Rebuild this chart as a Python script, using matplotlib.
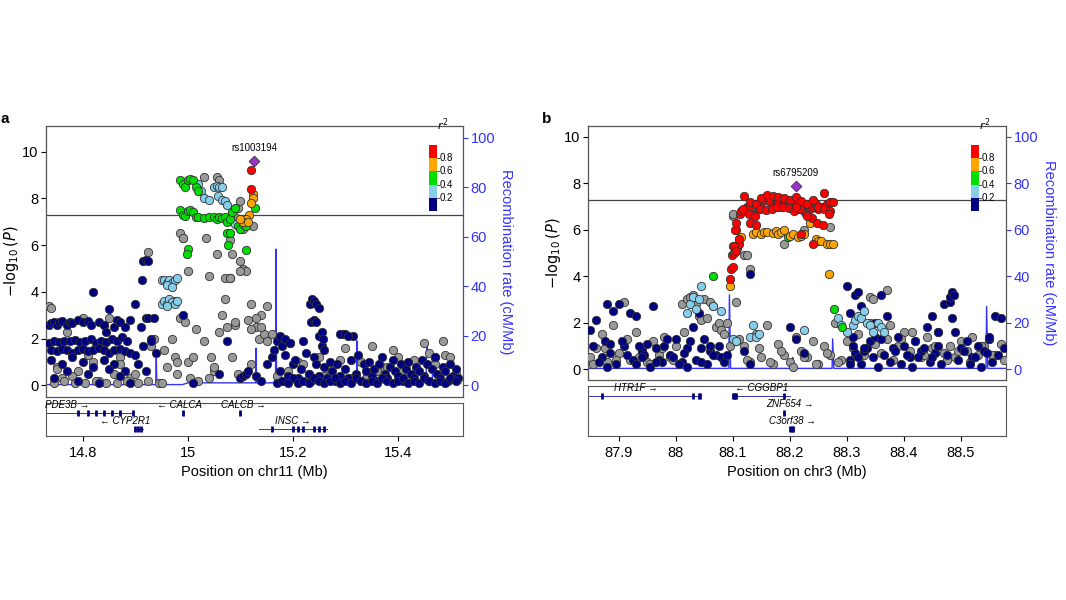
import numpy as np
import matplotlib.pyplot as plt
from matplotlib.patches import Rectangle

plt.rcParams['font.family'] = ['Liberation Sans', 'DejaVu Sans']

NAVY, GREY, LBLUE, GREEN, ORANGE, RED = '#000080', '#999999', '#87CEEB', '#00DD00', '#FFA500', '#FF0000'
REC = '#3333FF'

# ---------------- panel a (chr11) ----------------
a_navy_x = [14.735, 14.74, 14.745, 14.75, 14.755, 14.76, 14.77, 14.775, 14.78, 14.79, 14.80, 14.81, 14.815,
            14.82, 14.83, 14.84, 14.845, 14.85, 14.86, 14.865, 14.87, 14.88, 14.89, 14.90, 14.91, 14.92, 14.925,
            14.93, 14.935, 14.735, 14.745, 14.755, 14.765, 14.775, 14.785, 14.795, 14.805, 14.815, 14.825,
            14.835, 14.845, 14.855, 14.865, 14.875, 14.885, 14.74, 14.75, 14.76, 14.77, 14.78, 14.79, 14.80,
            14.81, 14.82, 14.83, 14.84, 14.85, 14.86, 14.87, 14.88, 14.89, 14.74, 14.76, 14.78, 14.80, 14.82,
            14.84, 14.86, 14.88, 14.90, 14.915, 14.93, 14.745, 14.77, 14.79, 14.81, 14.83, 14.85, 14.87,
            14.89, 14.905, 14.92, 14.94, 14.915, 14.92, 14.925, 14.913, 14.99, 15.01, 15.06, 15.075, 15.10,
            15.105, 15.11, 15.115, 15.13, 15.14, 15.15, 15.16, 15.165, 15.17, 15.175, 15.18, 15.185, 15.19,
            15.195, 15.20, 15.205, 15.21, 15.215, 15.22, 15.225, 15.23, 15.235, 15.24, 15.245, 15.25, 15.255,
            15.26, 15.265, 15.27, 15.275, 15.28, 15.285, 15.29, 15.295, 15.30, 15.305, 15.31, 15.315, 15.32,
            15.325, 15.33, 15.335, 15.34, 15.345, 15.35, 15.355, 15.36, 15.365, 15.37, 15.375, 15.38, 15.385,
            15.39, 15.395, 15.40, 15.405, 15.41, 15.415, 15.42, 15.425, 15.43, 15.435, 15.44, 15.445, 15.45,
            15.455, 15.46, 15.465, 15.47, 15.475, 15.48, 15.485, 15.49, 15.495, 15.50, 15.505, 15.51, 15.515,
            15.17, 15.18, 15.19, 15.20, 15.21, 15.22, 15.23, 15.24, 15.25, 15.26, 15.27, 15.28, 15.29, 15.30,
            15.31, 15.32, 15.33, 15.34, 15.35, 15.36, 15.37, 15.38, 15.39, 15.40, 15.41, 15.42, 15.43, 15.44,
            15.45, 15.46, 15.47, 15.48, 15.49, 15.50, 15.51, 15.232, 15.236, 15.24, 15.244, 15.25, 15.235,
            15.24, 15.245, 15.25, 15.255, 15.26, 15.175, 15.185, 15.195, 15.29, 15.3, 15.305, 15.47, 15.258]
a_navy_y = [2.6, 2.65, 2.7, 2.6, 2.7, 2.75, 2.6, 2.7, 2.65, 2.8, 2.7, 2.75, 2.6,
            4.0, 2.7, 2.6, 2.3, 3.25, 2.5, 2.8, 2.7, 2.5, 2.8, 3.5, 2.5, 2.9, 2.9,
            2.0, 2.9, 1.8, 1.9, 1.85, 1.9, 1.9, 1.95, 1.85, 1.9, 2.0, 1.8,
            1.9, 1.85, 2.0, 1.9, 2.05, 1.9, 1.5, 1.45, 1.55, 1.5, 1.4, 1.5, 1.55,
            1.45, 1.5, 1.6, 1.5, 1.4, 1.5, 1.55, 1.45, 1.4, 1.1, 0.9, 1.2, 1.0, 0.8,
            1.1, 0.9, 0.6, 1.3, 1.7, 1.9, 0.3, 0.6, 0.2, 0.5, 0.1, 0.7, 0.4,
            0.1, 0.9, 0.6, 1.4, 5.3, 5.35, 5.3, 4.5, 3.0, 0.1, 0.5, 1.9, 0.3,
            0.4, 0.5, 0.6, 0.4, 0.2, 0.9, 1.2, 1.5, 1.9, 0.6, 1.7, 1.3, 0.4,
            1.8, 0.9, 1.1, 0.3, 0.7, 1.9, 1.4, 0.5, 0.2, 1.2, 0.9, 0.4, 1.7,
            0.8, 0.3, 1.0, 0.6, 0.2, 0.9, 0.4, 2.2, 0.7, 0.3, 1.1, 2.1, 0.5,
            1.3, 0.2, 0.9, 0.6, 1.0, 0.4, 0.7, 0.2, 0.9, 1.2, 0.5, 0.3, 0.8,
            1.1, 0.6, 0.4, 0.9, 0.2, 0.7, 1.0, 0.5, 0.3, 0.8, 0.6, 1.1, 0.4,
            0.9, 0.2, 0.7, 1.2, 0.5, 0.3, 0.8, 0.6, 0.2, 0.9, 0.4, 0.7, 0.3,
            0.1, 0.2, 0.1, 0.3, 0.1, 0.2, 0.1, 0.3, 0.2, 0.1, 0.2, 0.3, 0.1, 0.2,
            0.1, 0.3, 0.2, 0.1, 0.2, 0.1, 0.3, 0.2, 0.1, 0.2, 0.3, 0.1, 0.2, 0.1,
            0.3, 0.2, 0.1, 0.2, 0.1, 0.3, 0.2, 3.5, 3.7, 3.6, 3.5, 3.3, 2.7,
            2.8, 2.7, 2.1, 2.3, 1.5, 2.1, 2.0, 1.8, 2.2, 2.2, 2.1, 1.2, 2.0]
a_grey_x = [14.735, 14.74, 14.75, 14.76, 14.77, 14.79, 14.80, 14.82, 14.83, 14.85, 14.86, 14.87, 14.89,
            14.75, 14.78, 14.81, 14.84, 14.87, 14.90, 14.93, 14.745, 14.765, 14.785, 14.805, 14.825, 14.845,
            14.865, 14.885, 14.905, 14.925, 14.945, 14.95, 14.955, 14.96, 14.965, 14.97, 14.975, 14.98,
            14.985, 14.99, 14.995, 15.0, 15.005, 15.01, 15.015, 15.02, 15.03, 15.035, 15.04, 15.045, 15.05,
            15.055, 15.06, 15.065, 15.07, 15.075, 15.08, 15.085, 15.09, 15.095, 15.1, 15.105, 15.11, 15.115,
            15.12, 15.125, 15.13, 15.135, 15.14, 15.145, 15.15, 14.985, 14.99, 15.03, 15.055, 15.06, 15.08,
            15.085, 15.09, 15.095, 15.1, 15.105, 15.11, 14.925, 14.935, 14.975, 14.98, 15.0, 15.04, 15.05,
            15.07, 15.08, 15.09, 15.1, 15.12, 15.14, 15.15, 15.16, 15.17, 15.19, 15.21, 15.23, 15.25, 15.27,
            15.29, 15.31, 15.33, 15.35, 15.37, 15.39, 15.41, 15.43, 15.45, 15.47, 15.49, 15.51, 15.18, 15.22,
            15.26, 15.30, 15.34, 15.38, 15.42, 15.46, 15.50, 15.485, 15.4, 15.36, 15.12, 15.13]
a_grey_y = [3.4, 3.3, 0.8, 0.3, 2.3, 0.6, 2.9, 1.0, 0.2, 2.9, 0.5, 1.2, 0.3,
            0.7, 0.4, 1.3, 2.6, 0.9, 0.5, 1.7, 0.1, 0.2, 0.1, 0.1, 0.2, 0.1,
            0.1, 0.2, 0.1, 0.2, 0.1, 0.1, 1.5, 0.8, 3.6, 2.0, 1.2, 0.5,
            2.9, 6.3, 2.7, 1.0, 0.3, 1.2, 2.4, 0.2, 1.9, 6.3, 0.3, 1.2, 0.6,
            5.6, 2.3, 3.0, 4.6, 2.5, 4.6, 1.2, 2.6, 0.5, 5.3, 5.0, 4.9, 2.8,
            0.9, 6.8, 2.5, 2.0, 3.0, 2.2, 1.9, 6.5, 6.3, 8.9, 8.9, 8.8, 6.2,
            5.6, 7.2, 7.6, 7.9, 6.7, 7.0, 5.7, 2.0, 3.6, 1.0, 4.9, 4.7, 0.8,
            3.7, 4.6, 2.7, 4.9, 2.4, 2.5, 3.4, 2.2, 0.4, 0.6, 1.0, 0.5, 1.2, 0.7,
            1.1, 0.3, 1.0, 1.7, 0.8, 1.5, 0.6, 1.1, 1.8, 0.9, 1.3, 0.5, 0.2, 0.9,
            0.4, 1.6, 0.3, 0.8, 0.2, 1.4, 1.2, 1.9, 1.2, 0.6, 3.5, 2.9]
a_lblue_x = [15.02, 15.025, 15.03, 15.04, 15.05, 15.055, 15.06, 15.065, 15.057, 15.065, 15.07, 15.075,
             15.08, 15.09, 14.95, 14.955, 14.96, 14.965, 14.97, 14.975, 14.98, 14.96, 14.97, 14.95, 14.955,
             14.96, 14.965, 14.97, 14.975, 14.98, 14.96]
a_lblue_y = [8.6, 8.3, 8.0, 7.95, 8.5, 8.55, 8.5, 8.5, 8.1, 7.95, 7.9, 7.7,
             7.2, 6.9, 4.5, 4.5, 4.4, 4.5, 4.4, 4.5, 4.6, 4.3, 4.2, 3.5, 3.6,
             3.5, 3.7, 3.55, 3.5, 3.6, 3.4]
a_green_x = [14.985, 14.99, 14.995, 15.0, 15.005, 15.01, 15.015, 15.02, 14.985, 14.99, 14.995, 15.0,
             15.005, 15.01, 15.015, 15.02, 15.03, 15.04, 15.05, 15.055, 15.06, 15.065, 15.07, 15.075, 15.08,
             15.085, 15.09, 15.095, 15.1, 15.105, 15.11, 15.128, 15.0, 14.998, 15.075, 15.08, 15.077, 15.11]
a_green_y = [8.8, 8.6, 8.5, 8.8, 8.85, 8.8, 8.5, 8.3, 7.5, 7.3, 7.25, 7.45,
             7.5, 7.4, 7.2, 7.2, 7.15, 7.2, 7.2, 7.1, 7.2, 7.15, 7.2, 7.0, 7.1,
             7.4, 7.6, 6.8, 6.7, 6.9, 6.8, 7.6, 5.85, 5.6, 6.5, 6.5, 6.0, 5.8]
a_orange_x = [15.124, 15.125, 15.12, 15.117, 15.11, 15.105, 15.115, 15.1]
a_orange_y = [8.2, 8.0, 7.8, 7.3, 7.1, 7.0, 7.0, 7.1]
a_red_x = [15.121, 15.120]
a_red_y = [9.2, 8.4]
a_lead = (15.126, 9.6, 'rs1003194')
a_rec_x = [14.73, 14.939, 14.94, 14.941, 14.99, 15.0, 15.129, 15.13, 15.131, 15.167, 15.168, 15.169,
           15.321, 15.322, 15.323, 15.454, 15.455, 15.457, 15.465, 15.466, 15.52]
a_rec_y = [0.3, 0.3, 11, 0.3, 0.3, 1.0, 1.0, 15, 1.0, 1.0, 55, 1.0,
           1.0, 18, 1.0, 1.0, 18, 12, 12, 1.0, 1.0]
a_genes = [  # name, start, end, row, label x, exons
    ('PDE3B \u2192', 14.73, 14.895, 0, 14.77, [14.79, 14.81, 14.825, 14.84, 14.855, 14.87, 14.895]),
    ('\u2190 CALCA', 14.99, 14.992, 0, 14.985, [14.99]),
    ('CALCB \u2192', 15.099, 15.101, 0, 15.105, [15.10]),
    ('\u2190 CYP2R1', 14.9, 14.915, 1, 14.88, [14.9, 14.905, 14.91]),
    ('INSC \u2192', 15.135, 15.265, 1, 15.2, [15.16, 15.2, 15.21, 15.22, 15.24, 15.25, 15.26]),
]

# ---------------- panel b (chr3) ----------------
b_navy_x = [87.85, 87.86, 87.87, 87.875, 87.88, 87.89, 87.90, 87.91, 87.915, 87.92, 87.93, 87.94, 87.95,
            87.96, 87.97, 87.98, 87.99, 88.0, 88.01, 88.02, 88.03, 88.04, 88.05, 88.06, 88.07, 88.08,
            87.855, 87.865, 87.885, 87.895, 87.905, 87.925, 87.935, 87.945, 87.955, 87.965, 87.975, 87.985,
            87.995, 88.005, 88.015, 88.025, 88.035, 88.045, 88.055, 88.065, 88.075, 88.085, 87.88, 87.885,
            87.93, 87.94, 87.965, 88.02, 88.045, 88.06, 88.09, 88.105, 88.12, 88.13, 88.2, 88.21, 88.225,
            88.3, 88.305, 88.31, 88.315, 88.32, 88.325, 88.33, 88.34, 88.35, 88.36, 88.37, 88.38, 88.39,
            88.4, 88.41, 88.42, 88.43, 88.44, 88.45, 88.46, 88.47, 88.48, 88.485, 88.49, 88.5, 88.51, 88.52,
            88.53, 88.54, 88.55, 88.56, 88.57, 88.305, 88.315, 88.325, 88.335, 88.345, 88.355, 88.365,
            88.375, 88.385, 88.395, 88.405, 88.415, 88.425, 88.435, 88.445, 88.455, 88.465, 88.475, 88.495,
            88.505, 88.515, 88.525, 88.535, 88.545, 88.555, 88.565, 88.305, 88.31, 88.32, 88.33, 88.35,
            88.36, 88.45, 88.46, 88.48, 88.485, 88.488, 88.55, 88.575, 88.13]
b_navy_y = [1.7, 2.1, 0.5, 1.2, 2.8, 2.5, 2.8, 1.0, 0.6, 2.4, 2.3, 0.8, 1.1,
            2.7, 0.4, 1.0, 0.6, 1.3, 0.3, 0.9, 1.8, 2.4, 1.3, 0.8, 0.6, 0.5,
            1.0, 0.3, 1.1, 0.2, 1.2, 0.4, 1.0, 0.6, 0.1, 0.9, 0.3, 1.3,
            0.5, 0.2, 0.7, 1.2, 0.4, 0.9, 0.2, 0.6, 1.0, 0.3, 0.1, 0.7,
            0.2, 0.5, 0.3, 0.1, 0.3, 1.0, 0.6, 1.2, 0.8, 4.1, 1.8, 1.3, 0.7,
            3.6, 2.4, 1.4, 3.2, 3.3, 2.7, 0.8, 1.2, 2.0, 3.2, 2.3, 0.9, 1.4,
            1.0, 0.5, 1.2, 0.8, 1.8, 2.3, 1.6, 2.8, 2.9, 2.2, 1.6, 0.9, 1.2, 0.5,
            1.0, 0.8, 1.3, 2.3, 2.2, 0.4, 0.7, 0.2, 0.9, 0.5, 0.1, 0.6,
            0.3, 0.8, 0.2, 0.6, 0.1, 0.5, 0.9, 0.3, 0.7, 0.2, 0.6, 0.4,
            0.8, 0.2, 0.5, 0.1, 0.7, 0.3, 0.6, 0.2, 1.0, 0.5, 0.9, 1.4,
            1.3, 0.5, 1.0, 3.1, 3.3, 3.2, 1.4, 0.9, 0.2]
b_grey_x = [87.85, 87.86, 87.87, 87.88, 87.89, 87.90, 87.91, 87.92, 87.93, 87.94, 87.95, 87.96, 87.97,
            87.98, 87.99, 88.0, 88.01, 88.02, 88.025, 88.03, 88.035, 88.04, 88.045, 88.05, 88.055, 88.06,
            88.065, 88.07, 88.075, 88.08, 88.085, 88.09, 88.095, 88.1, 88.11, 88.12, 88.13, 88.14, 88.15,
            88.16, 88.17, 88.18, 88.19, 88.2, 88.21, 88.22, 88.23, 88.24, 88.25, 88.26, 88.27, 88.28, 88.29,
            88.3, 88.31, 88.32, 88.33, 88.34, 88.35, 88.36, 88.37, 88.38, 88.39, 88.4, 88.41, 88.42, 88.43,
            88.44, 88.45, 88.46, 88.47, 88.48, 88.49, 88.5, 88.51, 88.52, 88.53, 88.54, 88.55, 88.56, 88.57,
            87.855, 87.875, 87.895, 87.915, 87.935, 87.955, 87.975, 87.995, 88.015, 88.105, 88.125, 88.145,
            88.165, 88.185, 88.205, 88.225, 88.245, 88.265, 88.285, 88.375, 88.395, 88.415, 88.435, 88.455,
            88.475, 88.495, 88.515, 88.535, 88.555, 88.575, 88.1, 88.12, 88.125, 88.13, 88.19, 88.225,
            88.27, 88.34, 88.345, 88.37]
b_grey_y = [0.5, 0.9, 1.5, 0.3, 1.9, 0.7, 2.9, 0.4, 1.6, 0.8, 0.3, 1.2, 0.6,
            1.4, 0.5, 1.0, 2.8, 3.0, 3.1, 3.2, 2.8, 2.3, 2.1, 3.0, 2.2, 2.9,
            2.7, 1.8, 2.0, 1.7, 1.5, 2.0, 1.0, 6.6, 1.3, 1.0, 0.3, 1.5, 0.5,
            1.9, 0.2, 1.1, 0.6, 0.3, 1.4, 0.8, 0.5, 1.2, 0.2, 1.0, 0.6, 2.0, 0.4,
            1.2, 0.9, 1.5, 0.6, 2.0, 1.1, 0.7, 1.3, 0.4, 1.0, 1.6, 0.8, 1.2, 0.5,
            1.4, 0.9, 1.6, 0.7, 1.0, 0.5, 1.2, 0.8, 1.4, 0.6, 1.0, 1.3, 0.6, 1.1,
            0.2, 0.9, 0.4, 1.3, 0.5, 0.2, 0.9, 0.4, 1.6, 2.9, 0.4, 0.9,
            0.3, 0.8, 0.1, 0.5, 0.2, 0.7, 0.3, 1.9, 1.3, 1.6, 0.6, 1.0,
            0.4, 0.8, 0.3, 1.0, 0.6, 0.4, 6.7, 4.9, 4.9, 4.3, 5.4, 6.0,
            6.1, 3.1, 3.0, 3.4]
b_lblue_x = [88.02, 88.025, 88.03, 88.035, 88.04, 88.045, 88.065, 88.08, 88.1, 88.105, 88.13, 88.135,
             88.14, 88.145, 88.225, 88.285, 88.29, 88.3, 88.31, 88.315, 88.32, 88.325, 88.33, 88.335,
             88.34, 88.345, 88.355, 88.36, 88.365]
b_lblue_y = [2.4, 2.8, 3.1, 2.6, 3.0, 3.6, 2.7, 2.5, 1.3, 1.2, 1.4, 1.9,
             1.4, 1.5, 1.7, 2.2, 1.9, 1.6, 1.9, 2.1, 2.3, 2.2, 2.5, 2.0,
             1.9, 1.6, 2.0, 1.8, 1.6]
b_green_x = [88.065, 88.197, 88.277, 88.291]
b_green_y = [4.0, 5.7, 2.6, 1.8]
b_orange_x = [88.095, 88.105, 88.11, 88.115, 88.135, 88.14, 88.15, 88.155, 88.16, 88.17, 88.175, 88.18,
              88.185, 88.19, 88.2, 88.205, 88.215, 88.22, 88.225, 88.245, 88.25, 88.255, 88.265, 88.27,
              88.275, 88.268, 88.235]
b_orange_y = [3.6, 6.0, 5.6, 5.7, 5.8, 5.9, 5.8, 5.9, 5.9, 5.85, 5.95, 5.8,
              5.9, 6.0, 5.75, 5.8, 5.7, 5.75, 5.8, 5.6, 5.5, 5.5, 5.4, 5.4,
              5.4, 4.1, 6.3]
b_red_x = [88.095, 88.097, 88.099, 88.1, 88.102, 88.104, 88.106, 88.108, 88.11, 88.112, 88.115, 88.12,
           88.125, 88.13, 88.135, 88.14, 88.145, 88.15, 88.155, 88.16, 88.165, 88.17, 88.175, 88.18,
           88.185, 88.19, 88.195, 88.2, 88.205, 88.21, 88.215, 88.22, 88.225, 88.23, 88.235, 88.24,
           88.245, 88.25, 88.255, 88.26, 88.265, 88.27, 88.275, 88.12, 88.13, 88.14, 88.15, 88.16, 88.17,
           88.18, 88.19, 88.2, 88.21, 88.22, 88.23, 88.24, 88.25, 88.26, 88.27, 88.118, 88.128, 88.138,
           88.148, 88.158, 88.168, 88.178, 88.188, 88.198, 88.208, 88.218, 88.228, 88.238, 88.248, 88.258,
           88.268, 88.1, 88.102, 88.105, 88.11, 88.13, 88.14, 88.22, 88.24, 88.23, 88.21]
b_red_y = [3.9, 4.3, 4.9, 5.3, 5.0, 6.0, 6.3, 5.2, 5.4, 6.7, 6.8, 6.8,
           7.0, 7.0, 6.7, 7.1, 6.9, 7.0, 7.3, 7.4, 7.2, 7.0, 7.3, 7.2,
           7.0, 7.1, 7.3, 7.0, 7.2, 7.1, 6.9, 7.0, 6.8, 7.1, 6.9, 7.0,
           7.1, 6.9, 7.0, 7.6, 7.1, 7.2, 7.2, 7.45, 7.2, 7.1, 7.35, 7.5, 7.45,
           7.4, 7.35, 7.3, 7.4, 7.25, 7.1, 7.3, 7.0, 6.9, 6.8, 6.9, 6.7, 6.6,
           6.9, 6.85, 6.9, 7.0, 7.0, 6.95, 6.8, 6.9, 6.7, 6.5, 6.3, 6.2,
           6.7, 4.4, 5.3, 5.1, 5.6, 6.3, 6.2, 5.8, 5.4, 6.6, 7.0]
b_lead = (88.21, 7.9, 'rs6795209')
b_rec_x = [87.846, 88.093, 88.094, 88.096, 88.204, 88.205, 88.206, 88.274, 88.275, 88.277, 88.544,
           88.545, 88.547, 88.579]
b_rec_y = [0.3, 0.3, 32, 0.3, 0.3, 5, 0.3, 0.3, 13, 0.3, 0.3, 27, 0.3, 0.3]
b_genes = [
    ('HTR1F \u2192', 87.846, 88.042, 0, 87.93, [87.87, 88.03, 88.04, 88.042]),
    ('\u2190 CGGBP1', 88.1, 88.2, 0, 88.15, [88.1, 88.102, 88.104, 88.106, 88.19]),
    ('ZNF654 \u2192', 88.19, 88.192, 1, 88.2, [88.19]),
    ('C3orf38 \u2192', 88.2, 88.206, 2, 88.205, [88.2, 88.203, 88.206]),
]

fig = plt.figure(figsize=(10.66, 6), dpi=100)
W, H = 1066, 600


def ax_px(l, t, r, b):
    return fig.add_axes([l / W, 1 - b / H, (r - l) / W, (b - t) / H])


def panel(box, gbox, xlim, ylim, rec_per_unit, xticks, xlabel, letter, series, lead, rec, genes,
          nrows, bar_px):
    ax = ax_px(*box)
    for x, y, c in series:
        ax.scatter(x, y, s=36, c=c, edgecolors='#333333', linewidths=0.6, zorder=3)
    ax.scatter([lead[0]], [lead[1]], marker='D', s=30, c='#9932CC', edgecolors='#333333',
               linewidths=0.6, zorder=4)
    ax.text(lead[0], lead[1] + 0.35, lead[2], ha='center', va='bottom', fontsize=7)
    ax.axhline(7.3, color='#444444', lw=0.9, zorder=1)
    ax.set_xlim(*xlim)
    ax.set_ylim(*ylim)
    ax.set_xticks([])
    ax.set_yticks([0, 2, 4, 6, 8, 10])
    ax.set_ylabel('$-\\log_{10}(P)$', fontsize=10.5, labelpad=1)
    ax.tick_params(labelsize=10.5, pad=2)
    for s in ax.spines.values():
        s.set_color('#555555')
    ax2 = ax.twinx()
    ax2.plot(rec[0], rec[1], color=REC, lw=1.0, zorder=2)
    ax2.set_ylim(ylim[0] * rec_per_unit, ylim[1] * rec_per_unit)
    ax2.set_yticks([0, 20, 40, 60, 80, 100])
    ax2.tick_params(colors=REC, labelsize=10.5, pad=2)
    ax2.spines['right'].set_color(REC)
    ax2.set_ylabel('Recombination rate (cM/Mb)', color=REC, fontsize=10.5, rotation=270, labelpad=13)
    ax.set_zorder(ax2.get_zorder() + 1)
    ax.patch.set_visible(False)
    # r2 legend
    cols = [NAVY, LBLUE, GREEN, ORANGE, RED]
    bx0, by0, bw, bh = bar_px
    aw, ah = box[2] - box[0], box[3] - box[1]
    for i, c in enumerate(cols):
        ax.add_patch(Rectangle(((bx0 - box[0]) / aw, 1 - (by0 - box[1] + bh * (5 - i) / 5) / ah),
                               bw / aw, bh / 5 / ah, transform=ax.transAxes, facecolor=c,
                               edgecolor='none', zorder=5))
    for i, lab in enumerate(['0.2', '0.4', '0.6', '0.8']):
        yy = 1 - (by0 - box[1] + bh * (4 - i) / 5) / ah
        ax.plot([(bx0 + bw - box[0]) / aw, (bx0 + bw + 2 - box[0]) / aw], [yy, yy],
                transform=ax.transAxes, color='#333333', lw=0.6, zorder=5)
        ax.text((bx0 + bw + 3 - box[0]) / aw, yy, lab, transform=ax.transAxes,
                fontsize=7, va='center')
    ax.text((bx0 + bw - box[0]) / aw, 1 - (by0 - 12 - box[1]) / ah,
            '$r^2$', transform=ax.transAxes, fontsize=8, va='bottom')
    ax.text(-0.11, 1.0, letter, transform=ax.transAxes, fontsize=11, fontweight='bold', va='bottom')

    g = ax_px(*gbox)
    g.set_xlim(*xlim)
    g.set_ylim(nrows - 0.2, -0.3)
    g.set_yticks([])
    g.set_xticks(xticks)
    g.set_xticklabels([f'{t:g}' for t in xticks])
    g.tick_params(labelsize=10.5)
    for s in g.spines.values():
        s.set_color('#555555')
    for name, st, en, row, lx, ex in genes:
        g.plot([st, en], [row + 0.35, row + 0.35], color='#3333AA', lw=0.7)
        g.scatter(ex, [row + 0.35] * len(ex), marker='|', s=14, c=NAVY, linewidths=2, zorder=3)
        g.text(lx, row + 0.15, name, fontsize=7, style='italic', ha='center', va='bottom')
    g.set_xlabel(xlabel, fontsize=10.5)


panel((46, 126, 463, 397), (46, 403, 463, 436), (14.73, 15.524), (-0.5, 11.1), 100 / 10.6,
      [14.8, 15, 15.2, 15.4], 'Position on chr11 (Mb)', 'a',
      [(a_grey_x, a_grey_y, GREY), (a_navy_x, a_navy_y, NAVY), (a_lblue_x, a_lblue_y, LBLUE),
       (a_green_x, a_green_y, GREEN), (a_orange_x, a_orange_y, ORANGE), (a_red_x, a_red_y, RED)],
      a_lead, (a_rec_x, a_rec_y), a_genes, 2, (429, 145, 8, 66))

panel((588, 126, 1006, 380), (588, 386, 1006, 436), (87.846, 88.579), (-0.47, 10.47), 10.0,
      [87.9, 88, 88.1, 88.2, 88.3, 88.4, 88.5], 'Position on chr3 (Mb)', 'b',
      [(b_grey_x, b_grey_y, GREY), (b_navy_x, b_navy_y, NAVY), (b_lblue_x, b_lblue_y, LBLUE),
       (b_green_x, b_green_y, GREEN), (b_orange_x, b_orange_y, ORANGE), (b_red_x, b_red_y, RED)],
      b_lead, (b_rec_x, b_rec_y), b_genes, 3, (971, 145, 8, 66))

fig.savefig('out.png', dpi=100)
